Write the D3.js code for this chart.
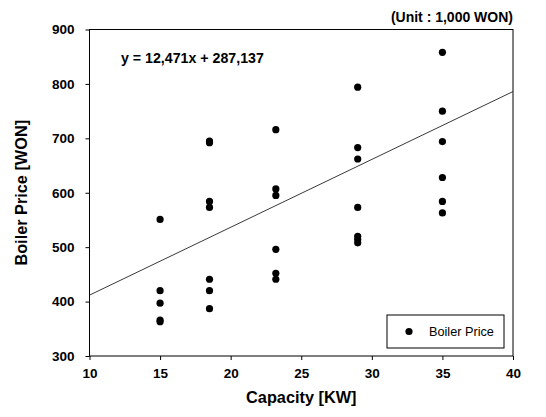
<!DOCTYPE html>
<html>
<head>
<meta charset="UTF-8">
<script src="https://d3js.org/d3.v7.min.js"></script>
<style>
  body { margin: 0; padding: 0; background: #fff; }
  svg { display: block; font-family: Arial, 'Liberation Sans', sans-serif; }
</style>
</head>
<body>
<svg width="546" height="417"></svg>
<script>
// capacity [KW] for each point and boiler price [1,000 WON]
const capacity = [15, 15, 15, 15, 15,
  18.5, 18.5, 18.5, 18.5, 18.5, 18.5, 18.5,
  23.2, 23.2, 23.2, 23.2, 23.2, 23.2,
  29, 29, 29, 29, 29, 29, 29,
  35, 35, 35, 35, 35, 35];
const price = [551, 420, 397, 366, 363,
  695, 692, 584, 573, 441, 420, 387,
  716, 607, 595, 496, 452, 441,
  794, 683, 662, 573, 520, 514, 508,
  858, 750, 694, 628, 584, 563];
const slope = 12.471, intercept = 287.137;
const xTicks = [10, 15, 20, 25, 30, 35, 40];
const yTicks = [300, 400, 500, 600, 700, 800, 900];

const svg = d3.select("svg");
const m = {left: 89.5, right: 513, top: 29.5, bottom: 356};

const x = d3.scaleLinear().domain([10, 40]).range([m.left, m.right]);
const y = d3.scaleLinear().domain([300, 900]).range([m.bottom, m.top]);

// frame
svg.append("rect")
  .attr("x", m.left).attr("y", m.top)
  .attr("width", m.right - m.left).attr("height", m.bottom - m.top)
  .attr("fill", "none").attr("stroke", "#000").attr("stroke-width", 1);

const xAxis = svg.append("g")
  .attr("transform", `translate(0,${m.bottom})`)
  .call(d3.axisBottom(x).tickValues(xTicks).tickSize(4).tickPadding(8));
const yAxis = svg.append("g")
  .attr("transform", `translate(${m.left},0)`)
  .call(d3.axisLeft(y).tickValues(yTicks).tickSize(4).tickPadding(11));

[xAxis, yAxis].forEach(g => {
  g.select(".domain").remove();
  g.selectAll("text")
    .attr("font-family", "Arial, 'Liberation Sans', sans-serif")
    .attr("font-size", 13.5).attr("font-weight", "bold").attr("fill", "#000");
});

// regression line
svg.append("line")
  .attr("x1", x(10)).attr("y1", y(slope * 10 + intercept))
  .attr("x2", x(40)).attr("y2", y(slope * 40 + intercept))
  .attr("stroke", "#222").attr("stroke-width", 0.9);

// points
svg.append("g").selectAll("circle")
  .data(capacity.map((c, i) => [c, price[i]]))
  .join("circle")
  .attr("cx", d => x(d[0]))
  .attr("cy", d => y(d[1]))
  .attr("r", 3.6)
  .attr("fill", "#000");

// equation
svg.append("text")
  .attr("x", 121).attr("y", 63)
  .attr("font-size", 14.2).attr("font-weight", "bold")
  .text("y = 12,471x + 287,137");

// unit
svg.append("text")
  .attr("x", 513).attr("y", 22)
  .attr("text-anchor", "end")
  .attr("font-size", 14).attr("font-weight", "bold")
  .text("(Unit : 1,000 WON)");

// axis titles
svg.append("text")
  .attr("x", x(25)).attr("y", 403)
  .attr("text-anchor", "middle")
  .attr("font-size", 16.3).attr("font-weight", "bold")
  .text("Capacity [KW]");
svg.append("text")
  .attr("transform", `translate(27,${(m.top + m.bottom) / 2}) rotate(-90)`)
  .attr("text-anchor", "middle")
  .attr("font-size", 16.3).attr("font-weight", "bold")
  .text("Boiler Price [WON]");

// legend
const lg = svg.append("g");
lg.append("rect")
  .attr("x", 387).attr("y", 315).attr("width", 117).attr("height", 33)
  .attr("fill", "#fff").attr("stroke", "#000").attr("stroke-width", 1);
lg.append("circle").attr("cx", 409).attr("cy", 331.5).attr("r", 3.6).attr("fill", "#000");
lg.append("text")
  .attr("x", 429).attr("y", 336)
  .attr("font-size", 12.7)
  .text("Boiler Price");
</script>
</body>
</html>
